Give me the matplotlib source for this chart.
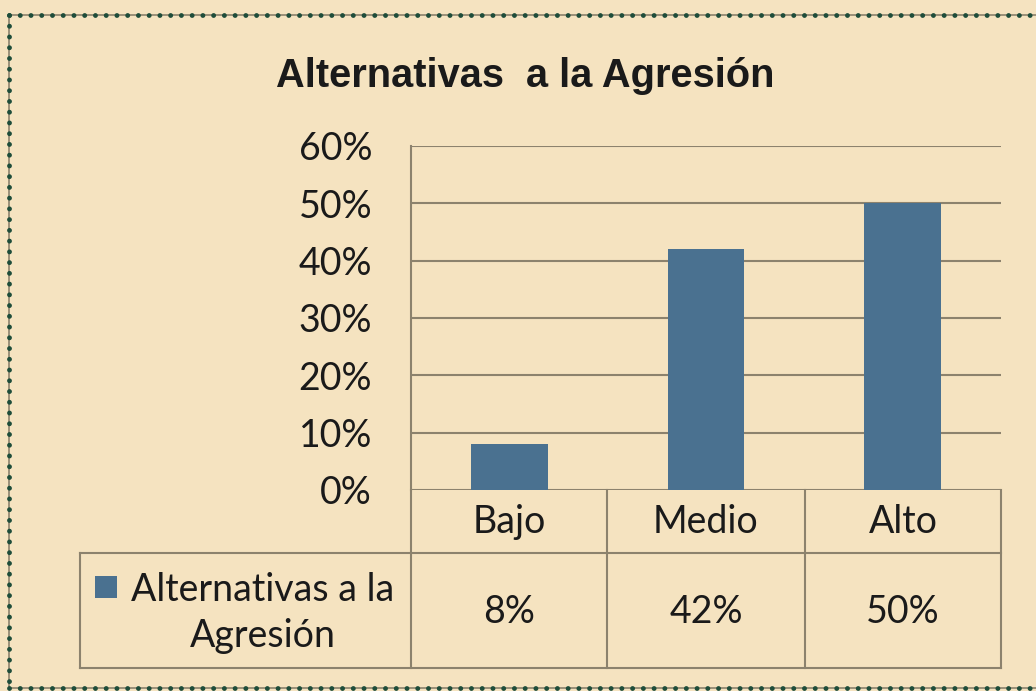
import matplotlib
matplotlib.use("Agg")
import matplotlib.pyplot as plt
from matplotlib.patches import Rectangle
from matplotlib.lines import Line2D

# data
categories = ["Bajo", "Medio", "Alto"]
values = [8, 42, 50]
series_name = "Alternativas a la\nAgresión"
title = "Alternativas  a la Agresión"
yticks = [0, 10, 20, 30, 40, 50, 60]

bg = "#F5E3C0"
bar_color = "#4A7190"
line_color = "#8C826D"
text_color = "#1A1A1A"
fs = 27

W, H = 1036, 691
fig = plt.figure(figsize=(W / 100, H / 100), dpi=100)
fig.patch.set_facecolor(bg)


def fx(px):
    return px / W


def fy(py):
    return 1 - py / H


# plot area in pixel coordinates
x0, x1 = 411, 1001
y_top, y_zero = 146, 490
ax = fig.add_axes([fx(x0), fy(y_zero), fx(x1 - x0), (y_zero - y_top) / H])
ax.set_facecolor(bg)
ax.set_xlim(-0.5, len(categories) - 0.5)
ax.set_ylim(0, 60)
ax.bar(range(len(categories)), values, width=0.39, color=bar_color, zorder=3)
ax.set_yticks(yticks)
ax.set_yticklabels([f"{t}%" for t in yticks], fontsize=fs, family="Lato", color=text_color)
ax.tick_params(axis="y", length=0, pad=28)
ax.set_xticks([])
for t in yticks:
    ax.axhline(t, color=line_color, lw=1.5, zorder=1)
for s in ["top", "right", "bottom"]:
    ax.spines[s].set_visible(False)
ax.spines["left"].set_color(line_color)
ax.spines["left"].set_linewidth(1.5)

fig.text(fx(525), fy(76), title, ha="center", va="center", fontsize=28.6,
         fontweight="bold", family=["Liberation Sans", "DejaVu Sans"], color=text_color)

# data table below the axis
col_edges = [411, 607, 805, 1001]
row1_bottom, row2_bottom = 553, 668
legend_left = 80


def hline(y, xa, xb):
    fig.add_artist(Line2D([fx(xa), fx(xb)], [fy(y), fy(y)], color=line_color, lw=1.5))


def vline(x, ya, yb):
    fig.add_artist(Line2D([fx(x), fx(x)], [fy(ya), fy(yb)], color=line_color, lw=1.5))


hline(row1_bottom, legend_left, col_edges[-1])
hline(row2_bottom, legend_left, col_edges[-1])
vline(legend_left, row1_bottom, row2_bottom)
vline(col_edges[0], y_zero, row2_bottom)
for x in col_edges[1:]:
    vline(x, y_zero, row2_bottom)

for i, (cat, val) in enumerate(zip(categories, values)):
    cx = (col_edges[i] + col_edges[i + 1]) / 2
    fig.text(fx(cx), fy(522), cat, ha="center", va="center", fontsize=fs,
             family="Lato", color=text_color)
    fig.text(fx(cx), fy(612), f"{val}%", ha="center", va="center", fontsize=fs,
             family="Lato", color=text_color)

fig.add_artist(Rectangle((fx(95), fy(598)), fx(22), 22 / H, transform=fig.transFigure,
                         facecolor=bar_color, edgecolor="none"))
fig.text(fx(263), fy(613), series_name, ha="center", va="center", fontsize=fs,
         family="Lato", color=text_color, multialignment="center", linespacing=1.36)

# dotted frame
for xs, ys in [([9, 1040], [15, 15]), ([9, 9], [15, 688]), ([9, 1040], [688, 688])]:
    fig.add_artist(Line2D([fx(v) for v in xs], [fy(v) for v in ys], color="#8C826D", lw=1.2))
    fig.add_artist(Line2D([fx(v) for v in xs], [fy(v) for v in ys], color="#1E4D3A", lw=3.5,
                          linestyle=(0, (0.01, 2.2)), dash_capstyle="round"))

fig.savefig("out.png", dpi=100, facecolor=bg)
